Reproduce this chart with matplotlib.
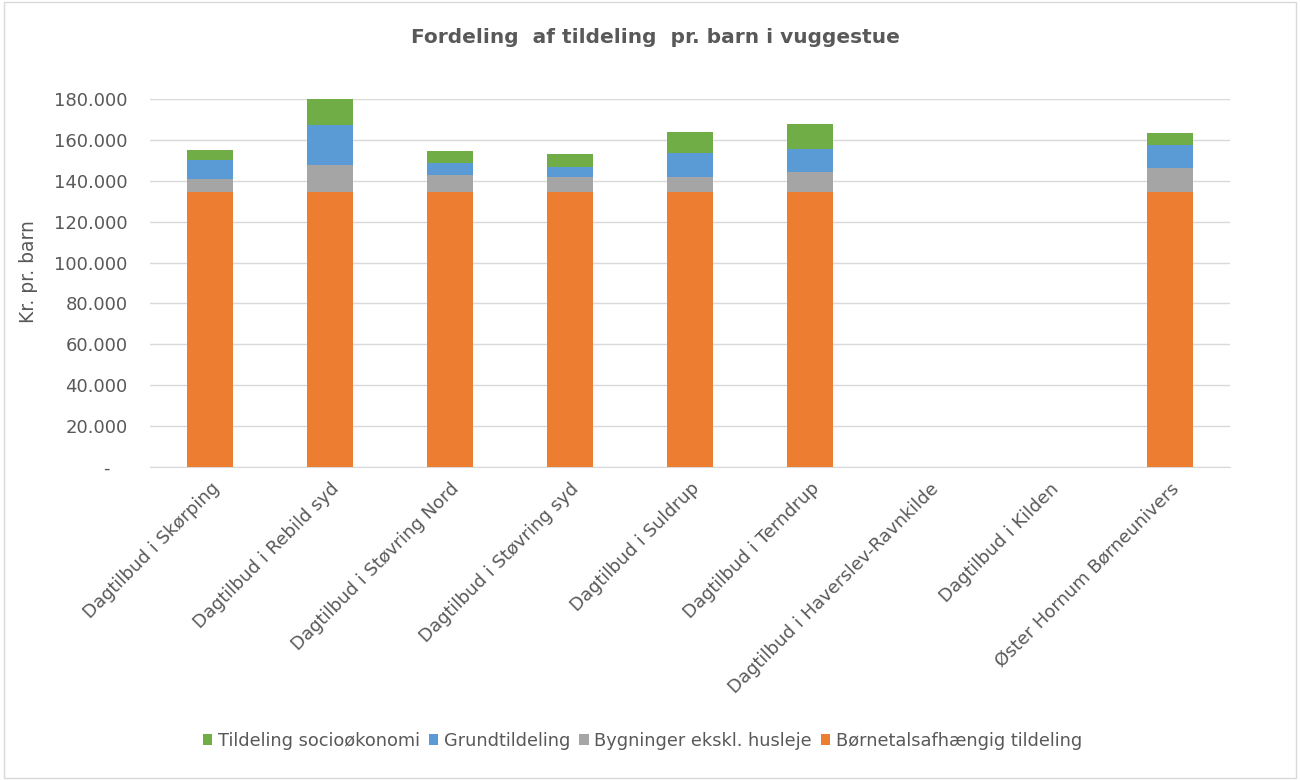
import numpy as np
import matplotlib.pyplot as plt
from matplotlib.patches import Rectangle
from matplotlib.ticker import FuncFormatter

# data (kr. pr. barn)
categories = [
    "Dagtilbud i Skørping",
    "Dagtilbud i Rebild syd",
    "Dagtilbud i Støvring Nord",
    "Dagtilbud i Støvring syd",
    "Dagtilbud i Suldrup",
    "Dagtilbud i Terndrup",
    "Dagtilbud i Haverslev-Ravnkilde",
    "Dagtilbud i Kilden",
    "Øster Hornum Børneunivers",
]
boernetal = [134400, 134400, 134400, 134400, 134400, 134400, 0, 0, 134400]
bygninger = [6700, 13400, 8300, 7400, 7300, 9800, 0, 0, 11700]
grund = [9000, 19400, 5900, 5100, 12100, 11600, 0, 0, 11500]
socio = [5200, 12800, 6100, 6000, 10300, 12100, 0, 0, 5900]

series = [
    ("Børnetalsafhængig tildeling", boernetal, "#ED7D31"),
    ("Bygninger ekskl. husleje", bygninger, "#A5A5A5"),
    ("Grundtildeling", grund, "#5B9BD5"),
    ("Tildeling socioøkonomi", socio, "#70AD47"),
]

plt.rcParams["font.family"] = ["DejaVu Sans"]
text_col = "#595959"

fig = plt.figure(figsize=(13, 7.8), dpi=100)
ax = fig.add_axes([0.1154, 0.4013, 0.8308, 0.4717])

x = np.arange(len(categories))
bottom = np.zeros(len(categories))
handles = {}
for name, vals, col in series:
    vals = np.array(vals, dtype=float)
    b = ax.bar(x, vals, width=0.39, bottom=bottom, color=col, label=name, zorder=3)
    handles[name] = b
    bottom += vals

ax.set_xlim(-0.5, len(categories) - 0.5)
ax.set_ylim(0, 180000)
ax.set_yticks(np.arange(0, 180001, 20000))
ax.yaxis.set_major_formatter(FuncFormatter(
    lambda v, p: "-   " if v == 0 else f"{int(v):,}".replace(",", ".")))
ax.grid(axis="y", color="#D9D9D9", linewidth=1, zorder=0)
for s in ["top", "right", "left"]:
    ax.spines[s].set_visible(False)
ax.spines["bottom"].set_color("#D9D9D9")
ax.tick_params(axis="both", length=0, colors=text_col, labelsize=13)
ax.tick_params(axis="y", pad=16)
ax.tick_params(axis="x", pad=9)

ax.set_xticks(x)
ax.set_xticklabels(categories, rotation=45, ha="right", rotation_mode="anchor")
ax.set_ylabel("Kr. pr. barn", color=text_col, fontsize=13.5)
ax.yaxis.set_label_coords(-0.104, 0.53)

fig.text(0.504, 0.952, "Fordeling  af tildeling  pr. barn i vuggestue",
         ha="center", va="center", fontsize=14.5, fontweight="bold", color=text_col)

order = ["Tildeling socioøkonomi", "Grundtildeling",
         "Bygninger ekskl. husleje", "Børnetalsafhængig tildeling"]
leg = fig.legend([handles[n] for n in order], order, loc="center",
                 bbox_to_anchor=(0.494, 0.05), ncol=4, frameon=False,
                 fontsize=12.8, handlelength=0.55, handleheight=0.55,
                 handletextpad=0.3, columnspacing=0.5)
for t in leg.get_texts():
    t.set_color(text_col)

fig.patches.append(Rectangle((0.003, 0.003), 0.994, 0.994, transform=fig.transFigure,
                             fill=False, edgecolor="#D9D9D9", linewidth=1))

fig.savefig("out.png", dpi=100)
